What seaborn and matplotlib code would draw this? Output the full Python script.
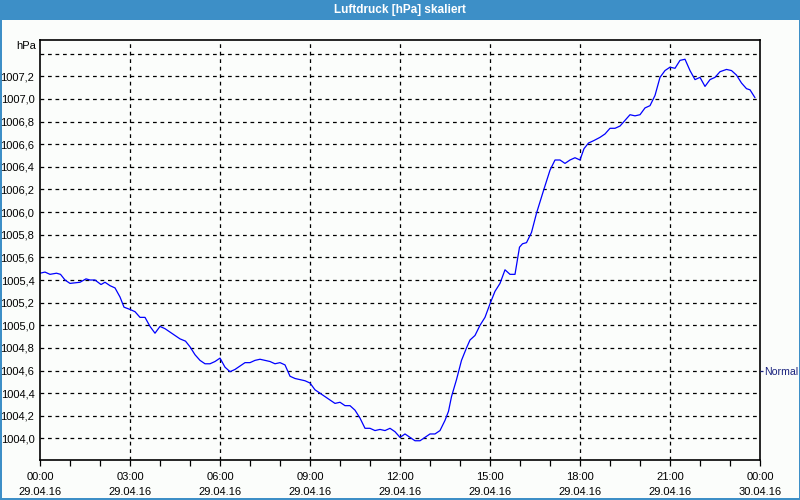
import matplotlib
matplotlib.use("Agg")
import matplotlib.pyplot as plt
import matplotlib.patches as mpatches
from matplotlib.ticker import FixedLocator, FuncFormatter
import seaborn as sns
import pandas as pd

# --- data (minutes since 29.04.16 00:00, pressure in hPa) ---
minutes = [0, 10, 20, 33, 41, 50, 60, 80, 92, 100, 110, 122, 130, 140, 150, 160, 168, 180,
           190, 200, 210, 220, 230, 240, 250, 260, 270, 280, 291, 300, 310, 320, 330, 340,
           350, 360, 370, 380, 390, 400, 410, 420, 430, 440, 450, 460, 470, 480, 490, 500,
           510, 520, 530, 540, 550, 560, 570, 580, 590, 600, 610, 620, 630, 640, 650, 660,
           670, 680, 690, 700, 710, 720, 730, 740, 750, 760, 770, 780, 790, 800, 810, 817,
           823, 833, 843, 853, 860, 870, 880, 890, 900, 910, 920, 930, 940, 950, 959, 965,
           973, 983, 993, 1007, 1020, 1030, 1040, 1050, 1060, 1070, 1080, 1088, 1097, 1107,
           1120, 1130, 1140, 1150, 1160, 1170, 1180, 1190, 1200, 1210, 1220, 1230, 1240,
           1250, 1260, 1270, 1280, 1290, 1300, 1310, 1320, 1330, 1340, 1350, 1360, 1373,
           1383, 1393, 1403, 1413, 1420, 1430]
pressure = [1005.46, 1005.47, 1005.45, 1005.46, 1005.45, 1005.40, 1005.37, 1005.38, 1005.41,
            1005.40, 1005.40, 1005.36, 1005.38, 1005.35, 1005.33, 1005.25, 1005.16, 1005.14,
            1005.12, 1005.07, 1005.07, 1004.99, 1004.93, 1004.99, 1004.97, 1004.94, 1004.91,
            1004.88, 1004.86, 1004.81, 1004.74, 1004.69, 1004.66, 1004.66, 1004.68, 1004.71,
            1004.63, 1004.59, 1004.61, 1004.64, 1004.67, 1004.67, 1004.69, 1004.70, 1004.69,
            1004.68, 1004.66, 1004.67, 1004.65, 1004.55, 1004.53, 1004.52, 1004.51, 1004.49,
            1004.43, 1004.40, 1004.37, 1004.34, 1004.31, 1004.32, 1004.29, 1004.29, 1004.25,
            1004.18, 1004.09, 1004.09, 1004.07, 1004.08, 1004.07, 1004.09, 1004.06, 1004.01,
            1004.04, 1004.01, 1003.98, 1003.98, 1004.01, 1004.04, 1004.04, 1004.07, 1004.16,
            1004.24, 1004.37, 1004.52, 1004.69, 1004.80, 1004.87, 1004.91, 1005.00, 1005.07,
            1005.19, 1005.30, 1005.37, 1005.49, 1005.45, 1005.45, 1005.69, 1005.72, 1005.73,
            1005.82, 1005.99, 1006.19, 1006.37, 1006.46, 1006.46, 1006.43, 1006.46, 1006.48,
            1006.46, 1006.56, 1006.61, 1006.63, 1006.66, 1006.69, 1006.74, 1006.74, 1006.76,
            1006.81, 1006.86, 1006.85, 1006.86, 1006.92, 1006.94, 1007.03, 1007.19, 1007.25,
            1007.28, 1007.27, 1007.34, 1007.35, 1007.25, 1007.17, 1007.19, 1007.11, 1007.17,
            1007.19, 1007.24, 1007.26, 1007.25, 1007.21, 1007.14, 1007.09, 1007.08, 1007.01]

y_ticks = [1004.0, 1004.2, 1004.4, 1004.6, 1004.8, 1005.0, 1005.2, 1005.4, 1005.6,
           1005.8, 1006.0, 1006.2, 1006.4, 1006.6, 1006.8, 1007.0, 1007.2]
y_grid_extra = [1007.4]
x_tick_hours = [0, 3, 6, 9, 12, 15, 18, 21, 24]
x_tick_labels = ["00:00\n29.04.16", "03:00\n29.04.16", "06:00\n29.04.16", "09:00\n29.04.16",
                 "12:00\n29.04.16", "15:00\n29.04.16", "18:00\n29.04.16", "21:00\n29.04.16",
                 "00:00\n30.04.16"]
normal_level = 1004.6
title = "Luftdruck [hPa] skaliert"

df = pd.DataFrame({"hours": [m / 60 for m in minutes], "hPa": pressure})

sns.set_style("white")
plt.rcParams["font.family"] = ["Liberation Sans", "DejaVu Sans"]

BG = "#FBFDFB"
BLUE_BAR = "#3D8FC7"
FS = 8

fig = plt.figure(figsize=(8, 5), dpi=100, facecolor=BG)
ax = fig.add_axes([40 / 800, 40 / 500, 720 / 800, 420 / 500])
ax.set_facecolor(BG)

sns.lineplot(data=df, x="hours", y="hPa", ax=ax, color="#0000FF", linewidth=0.9)

ax.set_xlim(0, 24)
ax.set_ylim(1003.81, 1007.52)

# grid
for yv in y_ticks + y_grid_extra:
    ax.axhline(yv, color="black", lw=0.9, ls=(0, (3, 3)), zorder=0.5)
for xv in x_tick_hours[1:-1]:
    ax.axvline(xv, color="black", lw=0.9, ls=(0, (3, 3)), zorder=0.5)

ax.set_yticks(y_ticks)
ax.yaxis.set_major_formatter(FuncFormatter(lambda v, p: f"{v:.1f}".replace(".", ",")))
ax.tick_params(axis="y", length=0, pad=4, labelsize=FS, colors="black")
ax.set_xticks(x_tick_hours)
ax.set_xticklabels(x_tick_labels, linespacing=1.55)
ax.xaxis.set_minor_locator(FixedLocator([h for h in range(25) if h % 3]))
ax.tick_params(axis="x", which="both", direction="out", length=4, width=0.9,
               labelsize=FS, colors="black", pad=5, bottom=True)
ax.set_xlabel("")
ax.set_ylabel("")
for s in ax.spines.values():
    s.set_color("black")
    s.set_linewidth(1.2)
    s.set_visible(True)

# hPa unit label
ax.text(-0.005, 1007.47, "hPa", transform=ax.get_yaxis_transform(), ha="right",
        va="center", fontsize=FS, color="black")

# "Normal" marker on the right
ax2 = ax.twinx()
ax2.set_ylim(ax.get_ylim())
ax2.set_yticks([normal_level])
ax2.set_yticklabels(["Normal"])
ax2.tick_params(axis="y", direction="out", length=2.5, width=0.9, pad=0.5, labelsize=7.6,
                colors="#1A237E")
for s in ax2.spines.values():
    s.set_visible(False)

# title bar and window border
fig.patches.append(mpatches.Rectangle((0, 480 / 500), 1, 20 / 500, transform=fig.transFigure,
                                      facecolor=BLUE_BAR, edgecolor="none", zorder=-1))
fig.text(0.5, 490 / 500, title, ha="center", va="center", color="white",
         fontsize=8.5, fontweight="bold")
for rect in [(0, 0, 2 / 800, 1), (798.5 / 800, 0, 1.5 / 800, 1), (0, 0, 1, 2 / 500)]:
    fig.patches.append(mpatches.Rectangle(rect[:2], rect[2], rect[3], transform=fig.transFigure,
                                          facecolor=BLUE_BAR, edgecolor="none", zorder=-1))

fig.savefig("out.png", dpi=100, facecolor=BG)
